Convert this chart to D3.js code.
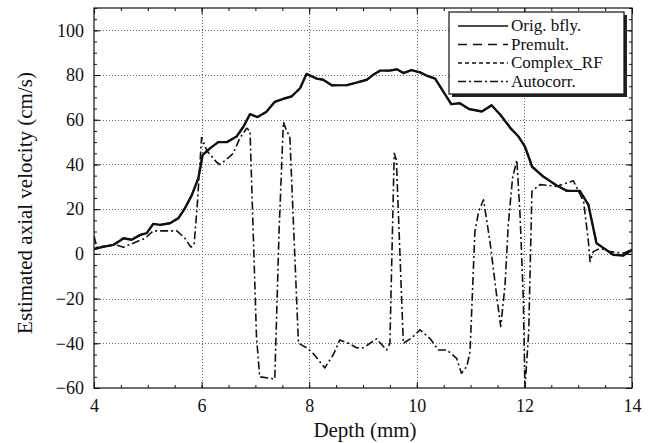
<!DOCTYPE html>
<html><head><meta charset="utf-8">
<script src="https://cdn.jsdelivr.net/npm/d3@7"></script>
<style>
html,body{margin:0;padding:0;background:#fff;}
</style></head>
<body><svg id="chart" width="649" height="443" font-family="'Liberation Serif', 'DejaVu Serif', serif"></svg>
<script>
// Depth (mm) / velocity (cm/s) samples
const origDepth = [4.00,4.15,4.36,4.55,4.70,4.86,4.98,5.10,5.23,5.41,5.57,5.69,5.82,5.94,6.02,6.16,6.31,6.47,6.65,6.78,6.90,7.04,7.20,7.36,7.52,7.67,7.83,7.95,8.14,8.26,8.42,8.70,8.88,9.07,9.19,9.32,9.50,9.63,9.75,9.90,10.06,10.18,10.34,10.47,10.64,10.80,10.97,11.21,11.39,11.56,11.75,11.89,12.01,12.10,12.14,12.35,12.60,12.79,13.03,13.19,13.34,13.46,13.65,13.84,14.00];
const origVel   = [2.2,3,4,7,6.3,8.5,9.3,13.4,13,13.7,16,20.4,26.4,33.9,44.3,47.3,50,50,52.5,57,62.5,61.2,63.5,68,69.4,70.4,74.1,80.5,78.4,77.9,75.4,75.5,76.6,77.9,80.1,82,82,82.6,80.9,82.2,81.2,79.8,78.4,73.5,67,67.4,64.8,63.7,66.5,62,56,52.5,48,42,39.1,34.6,30.6,28.2,28.2,21.9,4.8,2.8,-0.4,-0.7,1.8];
const premultVel = [2.3,3.1,4.1,6.9,6.4,8.4,9.4,13.3,13.1,13.8,16.1,20.3,26.5,34,44.2,47.2,50.1,49.9,52.6,57.1,62.4,61.3,63.4,68.1,69.3,70.5,74,80.4,78.5,77.8,75.5,75.4,76.7,77.8,80.2,81.9,82.1,82.5,81,82.1,81.3,79.7,78.5,73.4,67.1,67.3,64.9,63.6,66.4,62.1,55.9,52.6,47.9,42.1,39,34.7,30.5,28.3,28.1,22,4.9,2.7,-0.3,-0.6,1.9];
const complexVel = [2.1,2.9,3.9,7.1,6.2,8.6,9.2,13.5,12.9,13.6,15.9,20.5,26.3,33.8,44.4,47.4,49.9,50.1,52.4,56.9,62.6,61.1,63.6,67.9,69.5,70.3,74.2,80.6,78.3,78,75.3,75.6,76.5,78,80,82.1,81.9,82.7,80.8,82.3,81.1,79.9,78.3,73.6,66.9,67.5,64.7,63.8,66.6,61.9,56.1,52.4,48.1,41.9,39.2,34.5,30.7,28.1,28.3,21.8,4.7,2.9,-0.5,-0.8,1.7];
const autoDepth = [4.00,4.05,4.20,4.40,4.55,4.75,4.95,5.10,5.54,5.69,5.80,5.86,5.92,6.00,6.10,6.28,6.34,6.45,6.59,6.71,6.84,6.90,7.02,7.08,7.36,7.44,7.52,7.58,7.64,7.80,7.95,8.07,8.29,8.45,8.57,8.73,8.88,9.01,9.25,9.44,9.50,9.58,9.62,9.75,9.90,10.06,10.25,10.40,10.56,10.74,10.83,10.93,10.99,11.08,11.15,11.24,11.36,11.49,11.56,11.64,11.70,11.78,11.86,11.92,11.98,12.01,12.08,12.14,12.29,12.60,12.91,13.10,13.19,13.22,13.28,13.41,13.59,13.84,14.00];
const autoVel   = [8,3,3.5,4,3,5,7,10.3,10.3,7,3,4,22,52,46,41,40,42,45,51.8,56.2,55,-37,-55,-56,10,59,55,52.5,-40,-42,-44.4,-51,-45,-38.5,-40,-42,-42,-38,-43,-40,45,42,-40,-37.7,-34,-38,-43,-43,-46.7,-53.4,-50.4,-43.7,10,19,24.2,5.5,-19.8,-32.5,-14,13,34,42,17,-20,-60,-35,28,31,30.2,32.7,23.4,5.5,-3.4,1,2.5,1,0.3,2];
const seriesNames = ["Orig. bfly.","Premult.","Complex_RF","Autocorr."];
const xTicks = [4,6,8,10,12,14];
const yTicks = [-60,-40,-20,0,20,40,60,80,100];
const xTitle = "Depth (mm)";
const yTitle = "Estimated axial velocity (cm/s)";

const FONT = "'Liberation Serif', 'DejaVu Serif', serif";
const W = 649, H = 443;
const m = {l:94, r:17, t:8, b:55};
const svg = d3.select("#chart");
const x = d3.scaleLinear().domain([4,14]).range([m.l, W-m.r]);
const y = d3.scaleLinear().domain([-60,110]).range([H-m.b, m.t]);

// grid
const grid = svg.append("g").attr("stroke","#666").attr("stroke-width",1).attr("stroke-dasharray","1,2");
xTicks.slice(1,-1).forEach(v=>grid.append("line").attr("x1",Math.round(x(v))+0.5).attr("x2",Math.round(x(v))+0.5).attr("y1",y(110)).attr("y2",y(-60)));
yTicks.slice(1).forEach(v=>grid.append("line").attr("y1",Math.round(y(v))+0.5).attr("y2",Math.round(y(v))+0.5).attr("x1",x(4)).attr("x2",x(14)));

// axes with inward ticks
const xMinor = d3.range(4,14.01,0.5), yMinor = d3.range(-60,110.01,5);
const ax = (g)=>g.attr("font-size",18).attr("font-family",FONT).call(s=>s.select(".domain").remove());
svg.append("g").attr("transform",`translate(0,${y(-60)})`)
  .call(d3.axisBottom(x).tickValues(xMinor).tickSize(-3).tickFormat("")).call(ax);
svg.append("g").attr("transform",`translate(0,${y(-60)})`)
  .call(d3.axisBottom(x).tickValues(xTicks).tickSize(-6).tickPadding(11).tickFormat(d3.format("d"))).call(ax);
svg.append("g").attr("transform",`translate(0,${y(110)})`)
  .call(d3.axisTop(x).tickValues(xMinor).tickSize(-3).tickFormat("")).call(ax);
svg.append("g").attr("transform",`translate(0,${y(110)})`)
  .call(d3.axisTop(x).tickValues(xTicks).tickSize(-6).tickFormat("")).call(ax);
svg.append("g").attr("transform",`translate(${x(4)},0)`)
  .call(d3.axisLeft(y).tickValues(yMinor).tickSize(-3).tickFormat("")).call(ax);
svg.append("g").attr("transform",`translate(${x(4)},0)`)
  .call(d3.axisLeft(y).tickValues(yTicks).tickSize(-6).tickPadding(10).tickFormat(d3.format("d"))).call(ax);
svg.append("g").attr("transform",`translate(${x(14)},0)`)
  .call(d3.axisRight(y).tickValues(yMinor).tickSize(-3).tickFormat("")).call(ax);
svg.append("g").attr("transform",`translate(${x(14)},0)`)
  .call(d3.axisRight(y).tickValues(yTicks).tickSize(-6).tickFormat("")).call(ax);
svg.selectAll(".tick line").attr("stroke","#111");
svg.selectAll(".tick text").attr("fill","#111");

// series
const line = d3.line().x(d=>x(d[0])).y(d=>y(d[1]));
svg.append("clipPath").attr("id","pc").append("rect")
  .attr("x",x(4)).attr("y",y(110)).attr("width",x(14)-x(4)).attr("height",y(-60)-y(110));
const plot = svg.append("g").attr("clip-path","url(#pc)");
const styles = [
  {w:2.4, dash:null},
  {w:1.6, dash:"9,6"},
  {w:1.4, dash:"4,3"},
  {w:1.6, dash:"8,3,2,3"}
];
const data = [
  d3.zip(origDepth, origVel),
  d3.zip(origDepth, premultVel),
  d3.zip(origDepth, complexVel),
  d3.zip(autoDepth, autoVel)
];
[2,1,3,0].forEach(i=>{
  plot.append("path").datum(data[i]).attr("d",line).attr("fill","none")
    .attr("stroke","#111").attr("stroke-width",styles[i].w)
    .attr("stroke-dasharray",styles[i].dash).attr("stroke-linejoin","round");
});

// frame
svg.append("rect").attr("x",x(4)).attr("y",y(110)).attr("width",x(14)-x(4)).attr("height",y(-60)-y(110))
  .attr("fill","none").attr("stroke","#111").attr("stroke-width",1.2);

// legend
const lg = svg.append("g").attr("font-family",FONT);
const L = {x:449, y:12, w:175, h:82};
lg.append("rect").attr("x",L.x+3).attr("y",L.y+3).attr("width",L.w).attr("height",L.h).attr("fill","#222");
lg.append("rect").attr("x",L.x).attr("y",L.y).attr("width",L.w).attr("height",L.h).attr("fill","#fff").attr("stroke","#111").attr("stroke-width",1.2);
seriesNames.forEach((n,i)=>{
  const yy = L.y + 14 + i*18.5;
  lg.append("line").attr("x1",458).attr("x2",508).attr("y1",yy).attr("y2",yy)
    .attr("stroke","#111").attr("stroke-width",i===0?1.6:1.4).attr("stroke-dasharray",styles[i].dash);
  lg.append("text").attr("x",511).attr("y",yy+5).attr("font-size",17).attr("fill","#111").text(n);
});

// titles
svg.append("text").attr("x",365).attr("y",437).attr("text-anchor","middle").attr("font-size",21).attr("font-family",FONT).attr("fill","#111").text(xTitle);
svg.append("text").attr("transform",`translate(32,203) rotate(-90)`).attr("text-anchor","middle").attr("font-size",21).attr("font-family",FONT).attr("fill","#111").text(yTitle);
</script></body></html>
